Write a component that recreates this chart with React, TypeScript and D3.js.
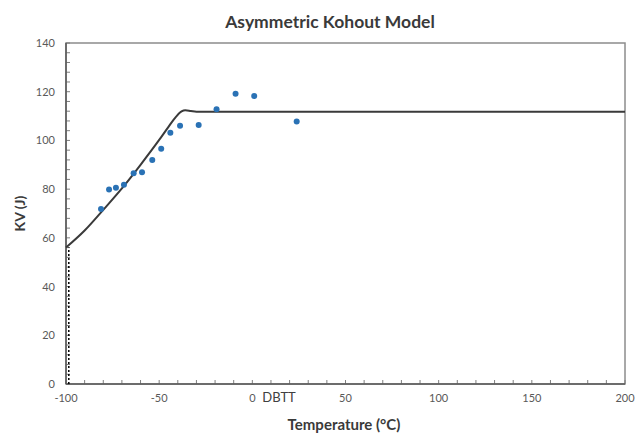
import React from "react";
import * as d3 from "d3";

const curveTemps = [-100, -90, -80, -70, -60, -50, -45, -41, -38, -36, -33, -30, 200];
const curveKV = [56, 63, 71.5, 80.3, 90, 100.2, 105.6, 109.7, 111.9, 112.4, 112.1, 111.8, 111.8];

const pointTemps = [-81.2, -76.9, -73.2, -68.9, -63.7, -59.2, -53.7, -48.9, -44.0, -38.8, -28.8, -19.2, -9.0, 1.0, 23.8];
const pointKV = [71.8, 79.9, 80.6, 81.8, 86.5, 86.9, 92.0, 96.6, 103.2, 106.0, 106.3, 112.8, 119.2, 118.2, 107.8];

const xTicks = [-100, -50, 0, 50, 100, 150, 200];
const yTicks = [0, 20, 40, 60, 80, 100, 120, 140];
const dbttTemp = -98.5;
const dbttTop = 56;

const W = 636;
const H = 436;
const L = 66, R = 625, T = 43, B = 384;

export default function App() {
  const x = d3.scaleLinear().domain([-100, 200]).range([L, R]);
  const y = d3.scaleLinear().domain([0, 140]).range([B, T]);
  const line = d3
    .line<number>()
    .x((_, i) => x(curveTemps[i]))
    .y((d) => y(d))
    .curve(d3.curveMonotoneX);
  const xMinor = d3.range(-100, 201, 10);
  const yMinor = d3.range(0, 141, 4);
  const font = "Lato, 'Open Sans', sans-serif";
  return (
    <svg width={W} height={H} style={{ position: "absolute", left: 0, top: 0, background: "#fff" }}>
      <rect x={0} y={0} width={W} height={H} fill="#fff" />
      <text x={330} y={28} textAnchor="middle" fontFamily={font} fontWeight="bold" fontSize={17.5} fill="#3a3a3a">
        Asymmetric Kohout Model
      </text>
      <rect x={L} y={T} width={R - L} height={B - T} fill="none" stroke="#8c8c8c" strokeWidth={1.5} />
      {xMinor.map((t) => (
        <line key={"xm" + t} x1={x(t)} x2={x(t)} y1={B} y2={B - 4} stroke="#7f7f7f" strokeWidth={1} />
      ))}
      {yMinor.map((v) => (
        <line key={"ym" + v} x1={L} x2={L + 4} y1={y(v)} y2={y(v)} stroke="#7f7f7f" strokeWidth={1} />
      ))}
      <line x1={L} x2={R} y1={B} y2={B} stroke="#595959" strokeWidth={1.5} />
      <line x1={L} x2={L} y1={B} y2={T} stroke="#595959" strokeWidth={1.5} />
      {xTicks.map((t) => (
        <text key={"xt" + t} x={x(t)} y={402} textAnchor="middle" fontFamily={font} fontSize={11} fill="#595959">
          {t < 0 ? "-" + Math.abs(t) : String(t)}
        </text>
      ))}
      <text x={x(0) + 10} y={402} fontFamily={font} fontSize={13} fill="#404040">
        DBTT
      </text>
      {yTicks.map((v) => (
        <text key={"yt" + v} x={55} y={y(v) + 4} textAnchor="end" fontFamily={font} fontSize={11} fill="#595959">
          {v}
        </text>
      ))}
      <text x={344} y={430} textAnchor="middle" fontFamily={font} fontWeight="bold" fontSize={15} fill="#3a3a3a">
        Temperature (°C)
      </text>
      <text
        transform={`translate(25,${(T + B) / 2}) rotate(-90)`}
        textAnchor="middle"
        fontFamily={font}
        fontWeight="bold"
        fontSize={14}
        fill="#3a3a3a"
      >
        KV (J)
      </text>
      <line
        x1={x(dbttTemp)}
        x2={x(dbttTemp)}
        y1={y(0)}
        y2={y(dbttTop)}
        stroke="#000"
        strokeWidth={1.5}
        strokeDasharray="2,2"
      />
      <path d={line(curveKV) || ""} fill="none" stroke="#3a3a3a" strokeWidth={2} />
      {pointKV.map((v, i) => (
        <circle key={"p" + i} cx={x(pointTemps[i])} cy={y(v)} r={3} fill="#2a72b5" />
      ))}
    </svg>
  );
}
